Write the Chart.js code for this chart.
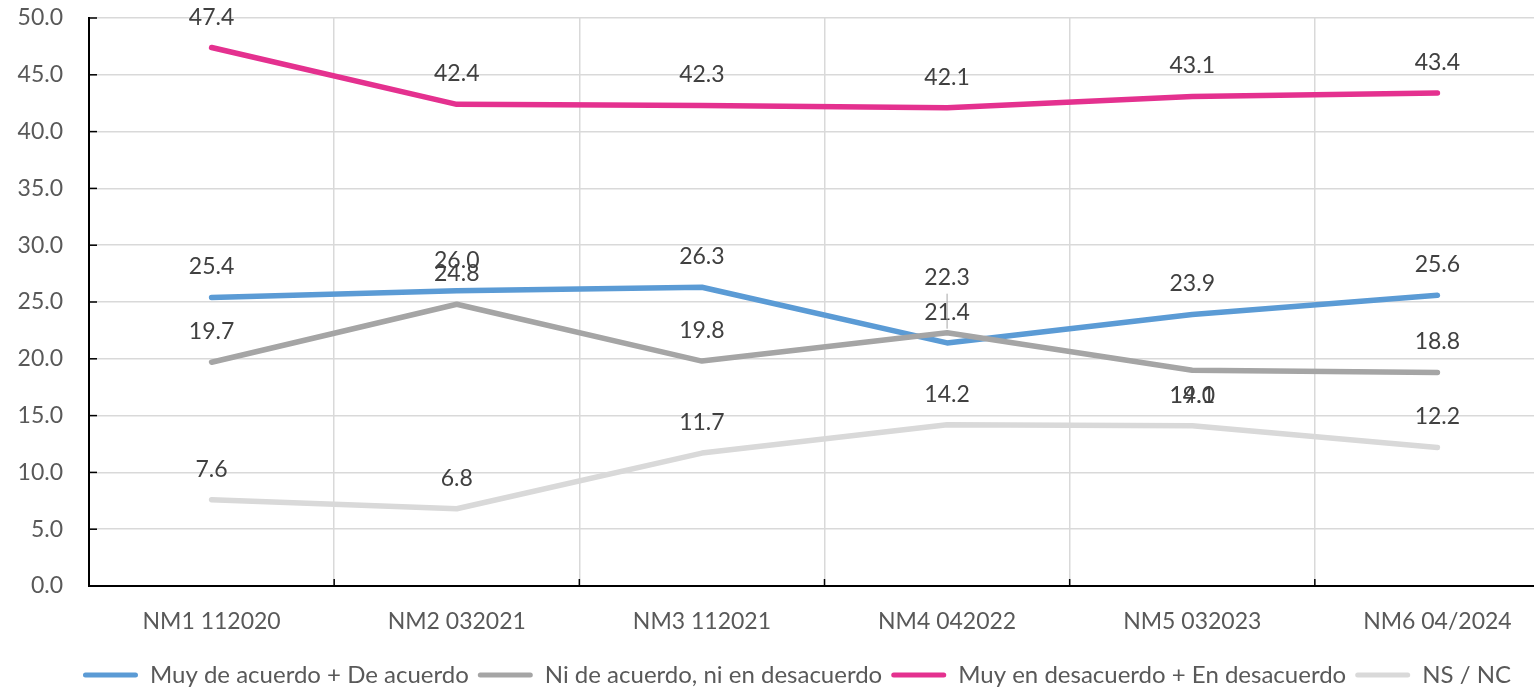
<!DOCTYPE html>
<html>
<head>
<meta charset="utf-8">
<script src="https://cdn.jsdelivr.net/npm/chart.js@4.4.1/dist/chart.umd.min.js"></script>
<style>
  html, body { margin: 0; padding: 0; background: #fff; overflow: hidden; }
  #wrap { width: 1534px; height: 694px; overflow: hidden; }
</style>
</head>
<body>
<div id="wrap"><canvas id="chart" width="1560" height="694"></canvas></div>
<script>
// Encuesta: evolucion por oleada (NM1..NM6)
const categories = ['NM1 112020', 'NM2 032021', 'NM3 112021', 'NM4 042022', 'NM5 032023', 'NM6 04/2024'];
const acuerdo = [25.4, 26.0, 26.3, 21.4, 23.9, 25.6];
const neutral = [19.7, 24.8, 19.8, 22.3, 19.0, 18.8];
const desacuerdo = [47.4, 42.4, 42.3, 42.1, 43.1, 43.4];
const nsnc = [7.6, 6.8, 11.7, 14.2, 14.1, 12.2];
const yMin = 0, yMax = 50, yStep = 5;

// labels that Excel moved away from the default "above" spot (datasetIndex-pointIndex: baseline offset)
const labelMoves = { '1-3': -48, '1-4': 33 };
const leaderLines = ['1-3'];

Chart.defaults.font.family = 'Lato, "Open Sans", sans-serif';
Chart.defaults.font.size = 23;
Chart.defaults.color = '#595959';

const dataLabels = {
    id: 'dataLabels',
    afterDatasetsDraw(chart) {
        const ctx = chart.ctx;
        ctx.save();
        ctx.font = '23px Lato, "Open Sans", sans-serif';
        ctx.fillStyle = '#404040';
        ctx.textAlign = 'center';
        ctx.textBaseline = 'alphabetic';
        chart.data.datasets.forEach((ds, i) => {
            const meta = chart.getDatasetMeta(i);
            meta.data.forEach((pt, j) => {
                const key = i + '-' + j;
                const dy = labelMoves[key] !== undefined ? labelMoves[key] : -23;
                ctx.fillText(ds.data[j].toFixed(1), pt.x, pt.y + dy);
                if (leaderLines.includes(key)) {
                    ctx.save();
                    ctx.strokeStyle = '#a5a5a5';
                    ctx.lineWidth = 1;
                    ctx.beginPath();
                    ctx.moveTo(pt.x, pt.y + dy + 9);
                    ctx.lineTo(pt.x, pt.y - 4);
                    ctx.stroke();
                    ctx.restore();
                }
            });
        });
        ctx.restore();
    }
};

// Excel style inward tick marks
const innerTicks = {
    id: 'innerTicks',
    afterDraw(chart) {
        const { ctx, chartArea, scales } = chart;
        ctx.save();
        ctx.strokeStyle = '#000';
        ctx.lineWidth = 1.5;
        scales.y.ticks.forEach((t, k) => {
            const y = scales.y.getPixelForTick(k);
            ctx.beginPath();
            ctx.moveTo(chartArea.left, y);
            ctx.lineTo(chartArea.left + 8, y);
            ctx.stroke();
        });
        for (let k = 1; k < categories.length; k++) {
            const x = (scales.x.getPixelForTick(k - 1) + scales.x.getPixelForTick(k)) / 2;
            ctx.beginPath();
            ctx.moveTo(x, chartArea.bottom);
            ctx.lineTo(x, chartArea.bottom - 7);
            ctx.stroke();
        }
        ctx.restore();
    }
};

// the visible page is narrower than the plot, so nudge the legend to the visible centre
const legendShift = {
    id: 'legendShift',
    afterLayout(chart) {
        chart.legend.left += 17;
        chart.legend.right += 17;
    }
};

const lineDataset = (label, data, color, order) => ({
    label: label,
    data: data,
    borderColor: color,
    backgroundColor: color,
    borderWidth: 5.5,
    borderCapStyle: 'round',
    borderJoinStyle: 'round',
    pointRadius: 0,
    pointHoverRadius: 0,
    tension: 0,
    order: order
});

new Chart(document.getElementById('chart'), {
    type: 'line',
    data: {
        labels: categories,
        datasets: [
            lineDataset('Muy de acuerdo + De acuerdo', acuerdo, '#5B9BD5', 4),
            lineDataset('Ni de acuerdo, ni en desacuerdo', neutral, '#A5A5A5', 3),
            lineDataset('Muy en desacuerdo + En desacuerdo', desacuerdo, '#E4318F', 2),
            lineDataset('NS / NC', nsnc, '#D9D9D9', 1)
        ]
    },
    options: {
        responsive: false,
        animation: false,
        layout: { padding: { left: 0, top: 0, right: 0, bottom: -3 } },
        plugins: {
            tooltip: { enabled: false },
            legend: {
                position: 'bottom',
                labels: {
                    boxWidth: 55,
                    boxHeight: 5,
                    padding: 9,
                    useBorderRadius: true,
                    borderRadius: 2.5,
                    color: '#595959',
                    font: { size: 24 },
                    generateLabels(chart) {
                        return chart.data.datasets.map((ds, i) => ({
                            text: ds.label,
                            fillStyle: ds.borderColor,
                            strokeStyle: ds.borderColor,
                            lineWidth: 0,
                            borderRadius: 2.5,
                            fontColor: '#595959',
                            hidden: false,
                            datasetIndex: i
                        }));
                    }
                }
            }
        },
        scales: {
            x: {
                offset: true,
                afterFit(scale) { scale.height = 68; },
                grid: { offset: true, color: '#d9d9d9', lineWidth: 1.5, drawTicks: false },
                border: { color: '#000', width: 2 },
                ticks: { padding: 22, color: '#595959', maxRotation: 0 }
            },
            y: {
                min: yMin,
                max: yMax,
                afterFit(scale) {
                    scale.width = 89;
                    scale.paddingTop = 18;
                    scale.paddingBottom = 0;
                },
                grid: { color: '#d9d9d9', lineWidth: 1.5, drawTicks: false },
                border: { color: '#000', width: 2 },
                ticks: {
                    stepSize: yStep,
                    padding: 26,
                    color: '#595959',
                    callback: function(value) { return value.toFixed(1); }
                }
            }
        }
    },
    plugins: [dataLabels, innerTicks, legendShift]
});
</script>
</body>
</html>
